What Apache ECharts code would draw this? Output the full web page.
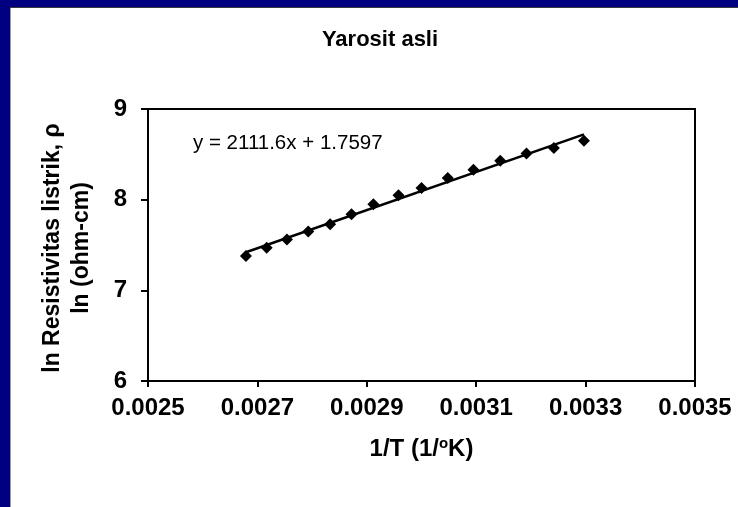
<!DOCTYPE html>
<html>
<head>
<meta charset="utf-8">
<script src="https://cdn.jsdelivr.net/npm/echarts@6/dist/echarts.min.js"></script>
<style>
  html, body { margin: 0; padding: 0; }
  body { width: 738px; height: 507px; background: #000080; position: relative; overflow: hidden; }
  #chart { position: absolute; left: 10px; top: 7px; width: 728px; height: 500px; background: #fff; }
  #edgeL { position: absolute; left: 10px; top: 7px; width: 1px; height: 500px; background: #9a9a9a; z-index: 2; }
  #edgeT { position: absolute; left: 10px; top: 7px; width: 728px; height: 1px; background: #3a3a3a; z-index: 2; }
</style>
</head>
<body>
<div id="chart"></div>
<div id="edgeL"></div>
<div id="edgeT"></div>
<script>
// 1/T (1/K) vs ln resistivity
const invT = [0.002679, 0.002717, 0.002754, 0.002793, 0.002833, 0.002872, 0.002912,
  0.002958, 0.003000, 0.003048, 0.003095, 0.003144, 0.003192, 0.003242, 0.003297];
const lnRho = [7.38, 7.47, 7.56, 7.65, 7.73, 7.84, 7.95, 8.05, 8.13, 8.24, 8.33, 8.43, 8.51, 8.57, 8.65];
// trend line end points
const trendX = [0.002679, 0.003297];
const trendY = [7.42, 8.72];
const equation = "y = 2111.6x + 1.7597";

const font = "Liberation Sans";
const chartDom = document.getElementById("chart");
const myChart = echarts.init(chartDom);

const option = {
  animation: false,
  graphic: [
    {
      type: "text",
      x: 370,
      y: 33,
      style: {
        text: "Yarosit asli", fontFamily: font, fontSize: 22, fontWeight: "bold", fill: "#000",
        align: "center", verticalAlign: "middle",
      },
    },
    {
      type: "text",
      x: 183,
      y: 136,
      style: { text: equation, fontFamily: font, fontSize: 20.5, fill: "#000", verticalAlign: "middle" },
    },
    {
      type: "text",
      x: 57,
      y: 241,
      rotation: Math.PI / 2,
      style: {
        text: "ln Resistivitas listrik, ρ\nln (ohm-cm)",
        fontFamily: font, fontSize: 23, fontWeight: "bold", fill: "#000",
        align: "center", verticalAlign: "middle", lineHeight: 29,
      },
    },
  ],
  grid: {
    left: 138,
    top: 102,
    width: 547,
    height: 272,
    show: true,
    borderColor: "#000",
    borderWidth: 2,
  },
  xAxis: {
    type: "value",
    min: 0.0025,
    max: 0.0035,
    interval: 0.0002,
    name: "{a|1/T (1/}{s|o}{a|K)}",
    nameLocation: "middle",
    nameGap: 55,
    nameTextStyle: {
      rich: {
        a: { fontFamily: font, fontSize: 24, fontWeight: "bold", color: "#000" },
        s: { fontFamily: font, fontSize: 15, fontWeight: "bold", color: "#000", verticalAlign: "top", padding: [0, 0, 12, 0] },
      },
    },
    axisLine: { lineStyle: { color: "#000", width: 2 } },
    axisTick: { inside: false, length: 6, lineStyle: { color: "#000", width: 2 } },
    axisLabel: {
      fontFamily: font, fontSize: 24, fontWeight: "bold", color: "#000", margin: 15,
      formatter: (v) => v.toFixed(4),
    },
    splitLine: { show: false },
  },
  yAxis: {
    type: "value",
    min: 6,
    max: 9,
    interval: 1,
    axisLine: { show: true, lineStyle: { color: "#000", width: 2 } },
    axisTick: { show: true, length: 7, lineStyle: { color: "#000", width: 2 } },
    axisLabel: { fontFamily: font, fontSize: 24, fontWeight: "bold", color: "#000", margin: 21 },
    splitLine: { show: false },
  },
  series: [
    {
      type: "line",
      data: trendX.map((x, i) => [x, trendY[i]]),
      symbol: "none",
      lineStyle: { color: "#000", width: 2.5 },
      z: 2,
    },
    {
      type: "scatter",
      data: invT.map((x, i) => [x, lnRho[i]]),
      symbol: "diamond",
      symbolSize: 12,
      itemStyle: { color: "#000", opacity: 1 },
      z: 3,
    },
  ],
};
myChart.setOption(option);
window.addEventListener("resize", myChart.resize);
</script>
</body>
</html>
